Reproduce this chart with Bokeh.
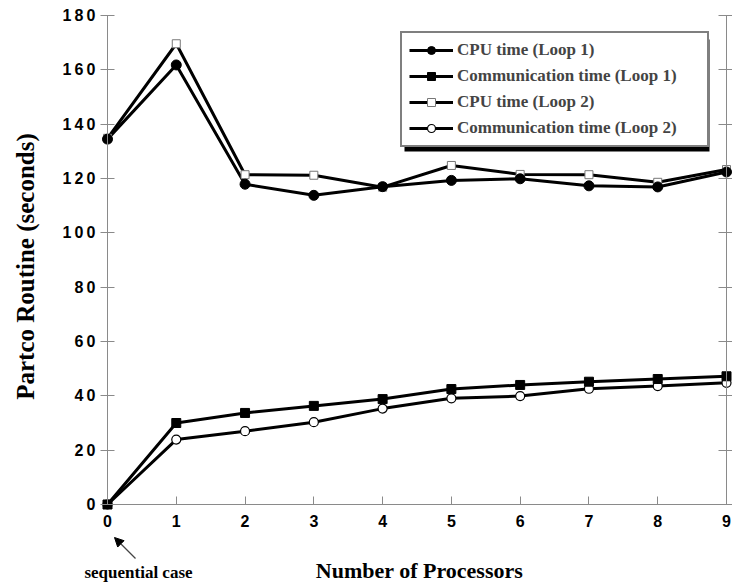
import math
from bokeh.plotting import figure
from bokeh.models import (FixedTicker, LinearAxis, Range1d, Label, Arrow, NormalHead,
                          BoxAnnotation, Legend)
from bokeh.embed import file_html
from bokeh.resources import INLINE

# ---- data ----
processors = [0, 1, 2, 3, 4, 5, 6, 7, 8, 9]
cpu_loop1 = [134.5, 161.8, 117.9, 113.8, 117.0, 119.3, 119.9, 117.3, 116.9, 122.4]
comm_loop1 = [0.0, 30.0, 33.7, 36.3, 38.8, 42.5, 44.0, 45.2, 46.2, 47.2]
cpu_loop2 = [134.8, 169.6, 121.4, 121.2, 116.8, 124.8, 121.5, 121.4, 118.6, 123.3]
comm_loop2 = [0.0, 23.9, 27.0, 30.3, 35.3, 39.1, 39.9, 42.6, 43.6, 44.8]

y_ticks = [0, 20, 40, 60, 80, 100, 120, 140, 160, 180]
x_ticks = [0, 1, 2, 3, 4, 5, 6, 7, 8, 9]
y_tick_labels = ["0", "2\u20090", "4\u20090", "6\u20090", "8\u20090", "1\u20090\u20090",
                 "1\u20092\u20090", "1\u20094\u20090", "1\u20096\u20090", "1\u20098\u20090"]

series_names = ["CPU time (Loop 1)", "Communication time (Loop 1)",
                "CPU time (Loop 2)", "Communication time (Loop 2)"]
x_title = "Number of Processors"
y_title = "Partco Routine (seconds)"
note_text = "sequential case"

SERIF = "Liberation Serif"
SANS = "Liberation Sans"
AXIS_GRAY = "#8a8a8a"

# ---- layout: plot box (axes) in canvas pixels ----
W, H = 732, 586
AX_L, AX_R, AX_T, AX_B = 107, 726, 15, 504
X0, X1, Y0, Y1 = 0, 9, 0, 180
kx = (AX_R - AX_L) / (X1 - X0)
ky = (AX_B - AX_T) / (Y1 - Y0)


def dx(px):
    return X0 + (px - AX_L) / kx


def dy(py):
    return Y0 + (AX_B - py) / ky


p = figure(width=W, height=H, output_backend="svg", toolbar_location=None,
           x_range=Range1d(dx(0), dx(W)), y_range=Range1d(dy(H), dy(0)),
           min_border=0)
p.outline_line_color = None
p.grid.visible = False
p.background_fill_color = "white"
p.border_fill_color = "white"

# left axis at x = 0
ya = p.yaxis[0]
ya.fixed_location = X0
ya.bounds = (Y0, Y1)
ya.ticker = FixedTicker(ticks=y_ticks)
ya.major_label_overrides = {t: l for t, l in zip(y_ticks, y_tick_labels)}
ya.minor_tick_line_color = None
ya.major_tick_in = 7
ya.major_tick_out = 7
ya.axis_line_color = AXIS_GRAY
ya.major_tick_line_color = AXIS_GRAY
ya.major_label_text_font = SANS
ya.major_label_text_font_style = "bold"
ya.major_label_text_font_size = "16px"
ya.major_label_text_color = "black"
ya.major_label_standoff = 5

# bottom axis at y = 0
xa = p.xaxis[0]
xa.fixed_location = Y0
xa.bounds = (X0, X1)
xa.ticker = FixedTicker(ticks=x_ticks)
xa.minor_tick_line_color = None
xa.major_tick_in = 8
xa.major_tick_out = 0
xa.axis_line_color = AXIS_GRAY
xa.major_tick_line_color = AXIS_GRAY
xa.major_label_text_font = SANS
xa.major_label_text_font_style = "bold"
xa.major_label_text_font_size = "16px"
xa.major_label_text_color = "black"
xa.major_label_standoff = 10

# right axis at x = 9 (ticks only)
ra = LinearAxis(ticker=FixedTicker(ticks=y_ticks), fixed_location=X1, bounds=(Y0, Y1),
                axis_line_color=AXIS_GRAY, major_tick_line_color=AXIS_GRAY,
                minor_tick_line_color=None, major_tick_in=8, major_tick_out=6,
                major_label_overrides={t: "" for t in y_ticks}, major_label_standoff=0)
p.add_layout(ra, "right")

# axis titles
p.add_layout(Label(x=dx(25), y=dy(266), text=y_title, angle=math.pi / 2,
                   text_font=SERIF, text_font_style="bold", text_font_size="25px",
                   text_align="center", text_baseline="middle", text_color="black"))
p.add_layout(Label(x=dx(419), y=dy(570), text=x_title,
                   text_font=SERIF, text_font_style="bold", text_font_size="22px",
                   text_align="center", text_baseline="middle", text_color="black"))

# legend shadow (drawn before legend), offset 4px right/down from the legend box
shadow = BoxAnnotation(left=dx(404), right=dx(709), top=dy(39), bottom=dy(151),
                       fill_color="black", fill_alpha=1, line_color=None, level="annotation")
p.add_layout(shadow)

# series: lines first, then open markers, then filled markers on top
r1l = p.line(processors, cpu_loop1, line_color="black", line_width=3)
r2l = p.line(processors, comm_loop1, line_color="black", line_width=3)
r3l = p.line(processors, cpu_loop2, line_color="black", line_width=3)
r4l = p.line(processors, comm_loop2, line_color="black", line_width=3)
r3m = p.scatter(processors, cpu_loop2, marker="square", size=8, fill_color="white",
                line_color="#777777", line_width=1)
r4m = p.scatter(processors, comm_loop2, marker="circle", size=9, fill_color="white",
                line_color="black", line_width=1.2)
r1m = p.scatter(processors, cpu_loop1, marker="circle", size=10, fill_color="black", line_color="black")
r2m = p.scatter(processors, comm_loop1, marker="square", size=9, fill_color="black", line_color="black")

legend = Legend(items=[(series_names[0], [r1l, r1m]),
                       (series_names[1], [r2l, r2m]),
                       (series_names[2], [r3l, r3m]),
                       (series_names[3], [r4l, r4m])],
                location=(400, H - 147), border_line_color="black", border_line_width=2,
                background_fill_color="white", background_fill_alpha=1,
                label_text_font=SERIF, label_text_font_style="bold", label_text_font_size="17px",
                glyph_width=44, glyph_height=20, label_height=20, label_width=243,
                spacing=6, padding=7, label_standoff=4, margin=0)
p.add_layout(legend, "center")

# annotation below the axis
p.add_layout(Arrow(x_start=dx(135), y_start=dy(558), x_end=dx(114), y_end=dy(537),
                   line_color="#444444", line_width=1.2,
                   end=NormalHead(size=9, fill_color="black", line_color="black")))
p.add_layout(Label(x=dx(138), y=dy(572), text=note_text,
                   text_font=SERIF, text_font_style="bold", text_font_size="17px",
                   text_align="center", text_baseline="middle", text_color="black"))

open("out.html", "w").write(file_html(p, INLINE))
